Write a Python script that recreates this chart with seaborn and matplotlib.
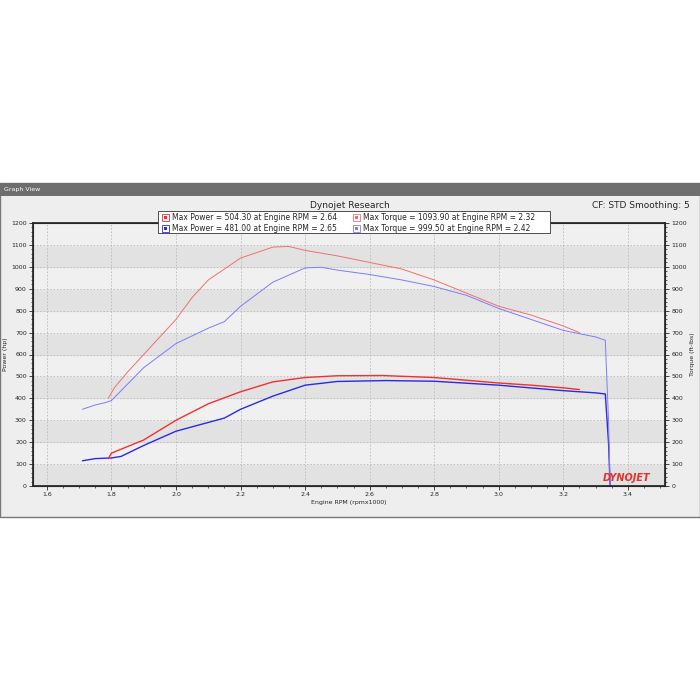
import matplotlib
matplotlib.use("Agg")
import matplotlib.pyplot as plt
import matplotlib.patches as mpatches
from matplotlib.ticker import MultipleLocator
import seaborn as sns
import pandas as pd

# === Data (read from the dyno sheet) ===
rt_rpm = [1.79, 1.81, 1.85, 1.90, 2.00, 2.05, 2.10, 2.20, 2.30, 2.35, 2.40, 2.50, 2.60, 2.70, 2.80, 2.90, 3.00, 3.10, 3.20, 3.25]
rt_val = [400, 450, 520, 600, 760, 860, 940, 1040, 1090, 1093, 1075, 1050, 1020, 990, 940, 880, 820, 780, 730, 700]
bt_rpm = [1.71, 1.75, 1.78, 1.80, 1.82, 1.90, 2.00, 2.10, 2.15, 2.20, 2.30, 2.40, 2.45, 2.50, 2.60, 2.70, 2.80, 2.90, 3.00, 3.10, 3.20, 3.30, 3.33, 3.34, 3.345]
bt_val = [350, 370, 380, 390, 420, 540, 650, 720, 750, 820, 930, 995, 998, 985, 965, 940, 910, 870, 810, 760, 710, 680, 665, 300, 0]
rp_rpm = [1.79, 1.80, 1.90, 2.00, 2.10, 2.20, 2.30, 2.40, 2.50, 2.64, 2.80, 3.00, 3.10, 3.20, 3.25]
rp_val = [125, 150, 210, 300, 375, 430, 475, 495, 503, 504, 495, 470, 460, 448, 440]
bp_rpm = [1.71, 1.75, 1.80, 1.83, 1.90, 2.00, 2.10, 2.15, 2.20, 2.30, 2.40, 2.50, 2.65, 2.80, 3.00, 3.20, 3.30, 3.33, 3.34, 3.345]
bp_val = [115, 125, 128, 135, 185, 250, 290, 310, 350, 410, 460, 477, 481, 478, 460, 435, 425, 420, 200, 0]
x_ticks = [1.6, 1.8, 2.0, 2.2, 2.4, 2.6, 2.8, 3.0, 3.2, 3.4]
y_ticks = list(range(0, 1300, 100))

sns.set_theme(style="white")
plt.rcParams['font.family'] = ['DejaVu Sans']

fig = plt.figure(figsize=(7, 7), dpi=100)
fig.patch.set_facecolor("white")

# window frame (behind the axes)
fig.patches.append(mpatches.Rectangle((0, 1 - 517 / 700), 1, (517 - 183) / 700, transform=fig.transFigure,
                                      facecolor="#eeeeee", edgecolor="#777777", lw=1, zorder=-2))
fig.patches.append(mpatches.Rectangle((0, 1 - 196 / 700), 1, 13 / 700, transform=fig.transFigure,
                                      facecolor="#6e6e6e", edgecolor="none", zorder=-1))
fig.text(0.005, 1 - 190 / 700, "Graph View", color="white", fontsize=4.5, va="center")
fig.text(0.5, 1 - 206 / 700, "Dynojet Research", fontsize=6.5, ha="center", va="center")
fig.text(0.985, 1 - 206 / 700, "CF: STD Smoothing: 5", fontsize=6.5, ha="right", va="center")

ax = fig.add_axes([33 / 700, 1 - 486 / 700, 632 / 700, 263 / 700])
ax.set_facecolor("#e6e6e6")
for i, lo in enumerate(range(0, 1200, 100)):
    ax.axhspan(lo, lo + 100, color="#f0f0f0" if i % 2 else "#e2e2e2", zorder=0)

df = pd.concat([
    pd.DataFrame({"rpm": rt_rpm, "val": rt_val, "s": "rt"}),
    pd.DataFrame({"rpm": bt_rpm, "val": bt_val, "s": "bt"}),
    pd.DataFrame({"rpm": rp_rpm, "val": rp_val, "s": "rp"}),
    pd.DataFrame({"rpm": bp_rpm, "val": bp_val, "s": "bp"}),
])
pal = {"rt": "#f07070", "bt": "#7d7df5", "rp": "#f03030", "bp": "#2a2ae0"}
widths = {"rt": 0.7, "bt": 0.7, "rp": 1.0, "bp": 1.0}
for s, g in df.groupby("s"):
    sns.lineplot(data=g, x="rpm", y="val", color=pal[s], lw=widths[s], ax=ax, sort=False, estimator=None)

ax.set_xlim(1.557, 3.515)
ax.set_ylim(0, 1200)
ax.set_xticks(x_ticks)
ax.set_xticklabels([f"{t:.1f}" for t in x_ticks])
ax.set_yticks(y_ticks)
ax.xaxis.set_minor_locator(MultipleLocator(0.05))
ax.yaxis.set_minor_locator(MultipleLocator(20))
ax.grid(True, which="major", color="#bbbbbb", ls=(0, (2, 2)), lw=0.6)
ax.tick_params(labelsize=4.5, length=3, width=0.6, direction="out", left=True, bottom=True, pad=1.5)
ax.tick_params(which="minor", length=1.5, width=0.5, left=True, bottom=True)
ax.set_xlabel("Engine RPM (rpmx1000)", fontsize=4.5, labelpad=2)
ax.set_ylabel("Power (hp)", fontsize=4.5, labelpad=2)
for sp in ax.spines.values():
    sp.set_color("#333333")
    sp.set_linewidth(0.8)

ax2 = ax.twinx()
ax2.set_ylim(0, 1200)
ax2.set_yticks(y_ticks)
ax2.yaxis.set_minor_locator(MultipleLocator(20))
ax2.tick_params(labelsize=4.5, length=3, width=0.6, right=True, pad=1.5)
ax2.tick_params(which="minor", length=1.5, width=0.5, right=True)
ax2.set_ylabel("Torque (ft-lbs)", fontsize=4.5, labelpad=2)
ax2.grid(False)

ax.text(3.47, 15, "DYNOJET", color="#e03030", fontsize=7, fontweight="bold", style="italic", ha="right", va="bottom")

# legend box (above the axes)
fig.patches.append(mpatches.Rectangle((158 / 700, 1 - 233 / 700), 392 / 700, 22 / 700, transform=fig.transFigure,
                                      facecolor="white", edgecolor="#333333", lw=0.6, zorder=5))

def legend_row(x0, y0, color, txt):
    fig.patches.append(mpatches.Rectangle((x0 / 700, 1 - y0 / 700), 7 / 700, 7 / 700, transform=fig.transFigure,
                                          facecolor="white", edgecolor=color, lw=0.6, zorder=6))
    fig.patches.append(mpatches.Rectangle(((x0 + 2) / 700, 1 - (y0 - 2) / 700), 3 / 700, 3 / 700,
                                          transform=fig.transFigure, facecolor=color, edgecolor="none", zorder=7))
    fig.text((x0 + 10) / 700, 1 - (y0 - 3.5) / 700, txt, fontsize=5.5, va="center", zorder=8)

legend_row(162, 221, "#f03030", "Max Power = 504.30 at Engine RPM = 2.64")
legend_row(162, 232, "#2a2ae0", "Max Power = 481.00 at Engine RPM = 2.65")
legend_row(353, 221, "#f07070", "Max Torque = 1093.90 at Engine RPM = 2.32")
legend_row(353, 232, "#7d7df5", "Max Torque = 999.50 at Engine RPM = 2.42")

fig.savefig("out.png", dpi=100)
